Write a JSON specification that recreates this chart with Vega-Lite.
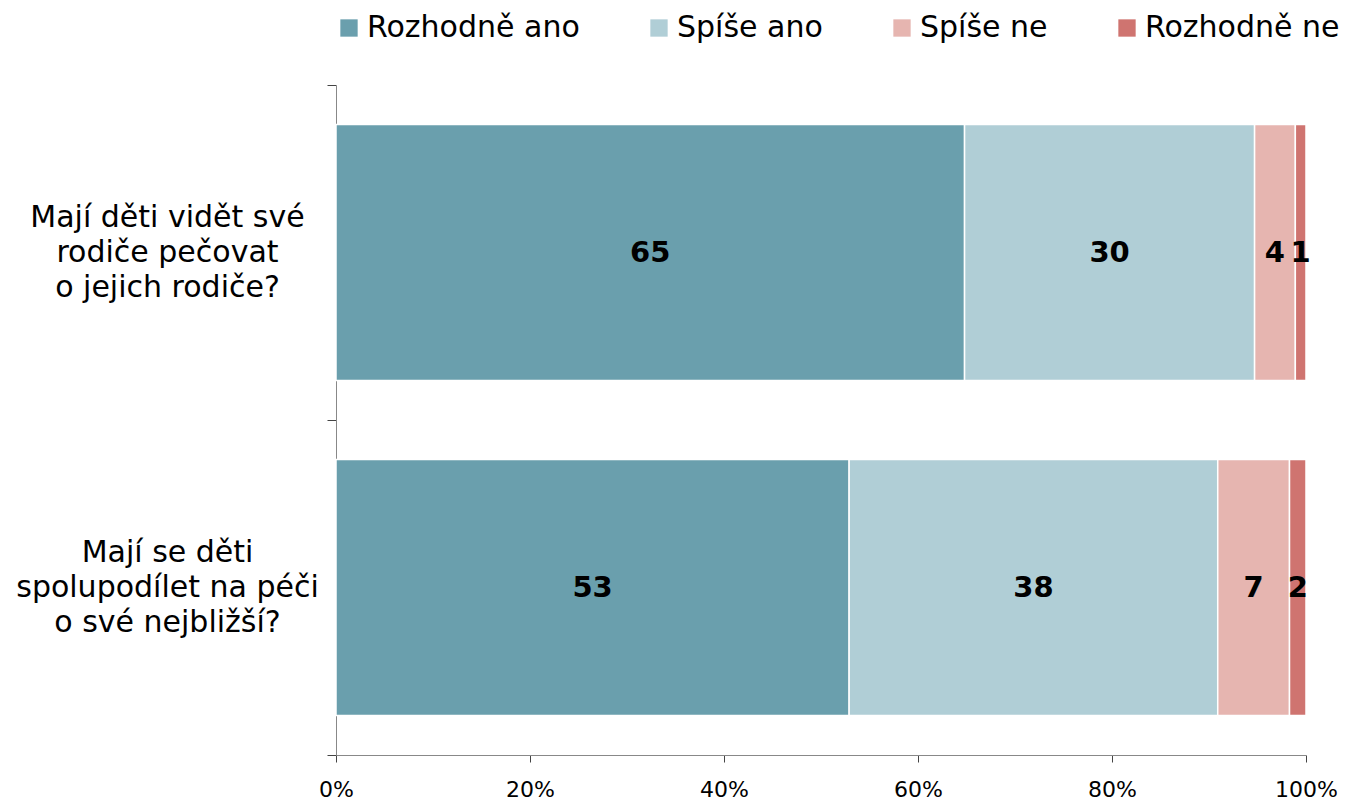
{
  "$schema": "https://vega.github.io/schema/vega-lite/v6.json",
  "width": 970,
  "height": 670,
  "autosize": {"type": "none"},
  "padding": {"left": 336, "top": 85, "right": 40, "bottom": 45},
  "background": "white",
  "config": {"view": {"stroke": null}, "font": "DejaVu Sans"},
  "data": {
    "values": [
      {"q": "Mají děti vidět své|rodiče pečovat|o jejich rodiče?", "qo": 1, "cat": "Rozhodně ano", "co": 1, "v": 64.8},
      {"q": "Mají děti vidět své|rodiče pečovat|o jejich rodiče?", "qo": 1, "cat": "Spíše ano", "co": 2, "v": 29.9},
      {"q": "Mají děti vidět své|rodiče pečovat|o jejich rodiče?", "qo": 1, "cat": "Spíše ne", "co": 3, "v": 4.2},
      {"q": "Mají děti vidět své|rodiče pečovat|o jejich rodiče?", "qo": 1, "cat": "Rozhodně ne", "co": 4, "v": 1.1},
      {"q": "Mají se děti|spolupodílet na péči|o své nejbližší?", "qo": 2, "cat": "Rozhodně ano", "co": 1, "v": 52.9},
      {"q": "Mají se děti|spolupodílet na péči|o své nejbližší?", "qo": 2, "cat": "Spíše ano", "co": 2, "v": 38.0},
      {"q": "Mají se děti|spolupodílet na péči|o své nejbližší?", "qo": 2, "cat": "Spíše ne", "co": 3, "v": 7.4},
      {"q": "Mají se děti|spolupodílet na péči|o své nejbližší?", "qo": 2, "cat": "Rozhodně ne", "co": 4, "v": 1.7}
    ]
  },
  "transform": [
    {"stack": "v", "groupby": ["q"], "sort": [{"field": "co", "order": "ascending"}], "as": ["v0", "v1"]},
    {"calculate": "(datum.v0 + datum.v1) / 2", "as": "vmid"}
  ],
  "encoding": {
    "y": {
      "field": "q", "type": "nominal", "sort": {"field": "qo"},
      "scale": {"paddingInner": 0, "paddingOuter": 0},
      "axis": {
        "title": null,
        "labelExpr": "datum.value ? split(datum.value, '|') : ''",
        "labelAlign": "center",
        "labelBaseline": "middle",
        "labelPadding": 160,
        "labelOffset": -35,
        "labelFontSize": 30,
        "labelLineHeight": 35,
        "labelColor": "#000000",
        "labelFont": "DejaVu Sans",
        "tickBand": "extent",
        "tickSize": 9,
        "tickColor": "#444444",
        "domainColor": "#888888",
        "labelLimit": 400
      }
    }
  },
  "layer": [
    {
      "mark": {"type": "bar", "stroke": "white", "strokeWidth": 1.5, "height": {"band": 0.764}},
      "encoding": {
        "x": {
          "field": "v0", "type": "quantitative",
          "scale": {"domain": [0, 100], "nice": false},
          "axis": {
            "title": null, "values": [0, 20, 40, 60, 80, 100],
            "labelExpr": "datum.value + '%'", "grid": false,
            "labelFontSize": 22, "labelColor": "#000000", "labelPadding": 17,
            "tickSize": 7, "tickColor": "#444444", "domainColor": "#888888",
            "labelFont": "DejaVu Sans", "labelFlush": false
          }
        },
        "x2": {"field": "v1"},
        "color": {
          "field": "cat", "type": "nominal",
          "sort": ["Rozhodně ano", "Spíše ano", "Spíše ne", "Rozhodně ne"],
          "scale": {
            "domain": ["Rozhodně ano", "Spíše ano", "Spíše ne", "Rozhodně ne"],
            "range": ["#6a9fad", "#b0ced6", "#e6b5b0", "#cf7470"]
          },
          "legend": {
            "title": null, "orient": "none", "direction": "horizontal",
            "legendX": -2, "legendY": -72,
            "symbolType": "square", "symbolSize": 300, "symbolStrokeWidth": 0,
            "labelFontSize": 30, "labelColor": "#000000", "labelFont": "DejaVu Sans",
            "labelOffset": 3, "columnPadding": 64, "labelLimit": 400
          }
        }
      }
    },
    {
      "mark": {"type": "text", "fontWeight": "bold", "fontSize": 29, "color": "#000000", "baseline": "middle", "align": "center"},
      "encoding": {
        "x": {"field": "vmid", "type": "quantitative"},
        "text": {"field": "v", "type": "quantitative", "format": ".0f"}
      }
    }
  ]
}
